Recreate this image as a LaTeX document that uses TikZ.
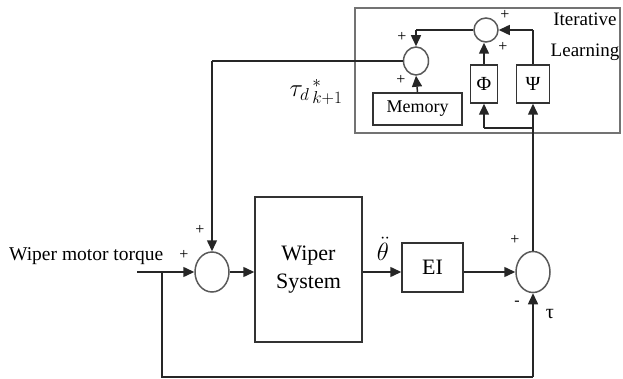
\documentclass[tikz,border=0pt]{standalone}
\usepackage{fontspec}
\setmainfont{Liberation Serif}
\usetikzlibrary{shapes.geometric,arrows.meta}
\tikzset{
  wire/.style={draw=black!85, line width=1.5pt},
  arr/.style={wire, -{Triangle[length=11pt,width=10pt]}},
  sumnode/.style={ellipse, draw=black!65, line width=1.5pt, inner sep=0pt},
  blk/.style={rectangle, draw=black!80, line width=1.5pt, inner sep=0pt},
  sgn/.style={font=\fontsize{16}{16}\selectfont, inner sep=0pt},
}
\begin{document}
\begin{tikzpicture}[x=1pt,y=-1pt]
\useasboundingbox (0,0) rectangle (623,379);
% Iterative learning frame
\node[rectangle, draw=black!55, line width=1.8pt, minimum width=265pt, minimum height=125pt, inner sep=0pt] (il) at (487.5,70.5) {};
\node[align=center, font=\fontsize{19}{31}\selectfont] (iltxt) at (585,37) {Iterative\\Learning};
% main loop
\node[sumnode, minimum width=34pt, minimum height=40pt] (sumM) at (212,272) {};
\node[blk, minimum width=107pt, minimum height=145pt, align=center, font=\fontsize{22}{28}\selectfont] (wiper) at (308.5,269.5) {Wiper\\System};
\node[blk, minimum width=61pt, minimum height=49pt, font=\fontsize{22}{22}\selectfont] (ei) at (432.5,267.5) {EI};
\node[sumnode, minimum width=34pt, minimum height=41pt] (sumR) at (533,272) {};
% learning blocks
\node[sumnode, minimum width=25pt, minimum height=28pt] (sumA) at (416,61) {};
\node[sumnode, minimum width=24pt, minimum height=24pt] (sumB) at (486,30) {};
\node[blk, minimum width=89pt, minimum height=32pt, font=\fontsize{18}{18}\selectfont] (mem) at (417.5,109) {Memory};
\node[blk, minimum width=27pt, minimum height=38pt, font=\fontsize{20}{20}\selectfont] (phi) at (484,84) {Φ};
\node[blk, minimum width=33pt, minimum height=38pt, font=\fontsize{20}{20}\selectfont] (psi) at (533,84) {Ψ};
% coordinates
\coordinate (inS) at (137,272);
\coordinate (br) at (162,272);
\coordinate (bl) at (162,377);
\coordinate (brr) at (533,377);
\coordinate (fbT) at (533,128);
\coordinate (fbL) at (484,128);
\coordinate (psiT) at (533,30);
\coordinate (aT) at (416,30);
\coordinate (fwL) at (212,61);
% input
\node[font=\fontsize{19.5}{19.5}\selectfont, anchor=base west, inner sep=0pt] (intxt) at (9,260) {Wiper motor torque};
\draw[arr] (inS) -- (sumM.west);
\draw[wire] (br) -- (bl) -- (brr);
\draw[arr] (brr) -- (sumR.south);
\draw[arr] (sumM.east) -- (sumM.east -| wiper.west);
\draw[arr] (wiper.east |- sumM.east) -- (ei.west |- sumM.east);
\draw[arr] (ei.east |- sumM.east) -- (sumR.west);
% feedback into learning
\draw[wire] (sumR.north) -- (fbT);
\draw[arr] (fbT) -- (psi.south);
\draw[wire] (fbT) -- (fbL);
\draw[arr] (fbL) -- (phi.south);
\draw[arr] (phi.north) -- (phi.north |- sumB.south);
\draw[wire] (psi.north) -- (psiT);
\draw[arr] (psiT) -- (sumB.east);
\draw[wire] (sumB.west) -- (aT);
\draw[arr] (aT) -- (sumA.north);
\draw[arr] (mem.north) -- (sumA.south);
\draw[wire] (sumA.west) -- (fwL);
\draw[arr] (fwL) -- (sumM.north);
% labels
\node[font=\fontsize{23}{23}\selectfont] (tauL) at (316,92) {${\tau_d}^{\,*}_{\,k+1}$};
\node[font=\fontsize{23}{23}\selectfont, inner sep=0pt] (thL) at (383,249) {$\ddot{\theta}$};
\node[font=\fontsize{20}{20}\selectfont] (tauR) at (550,314) {τ};
\node[sgn] (p1) at (184,255) {+};
\node[sgn] (p2) at (200,230) {+};
\node[sgn] (p3) at (515,240) {+};
\node[sgn] (m1) at (517,303) {-};
\node[sgn] (p4) at (402,37) {+};
\node[sgn] (p5) at (401,80) {+};
\node[sgn] (p6) at (505,15) {+};
\node[sgn] (p7) at (503,47) {+};
\end{tikzpicture}
\end{document}
